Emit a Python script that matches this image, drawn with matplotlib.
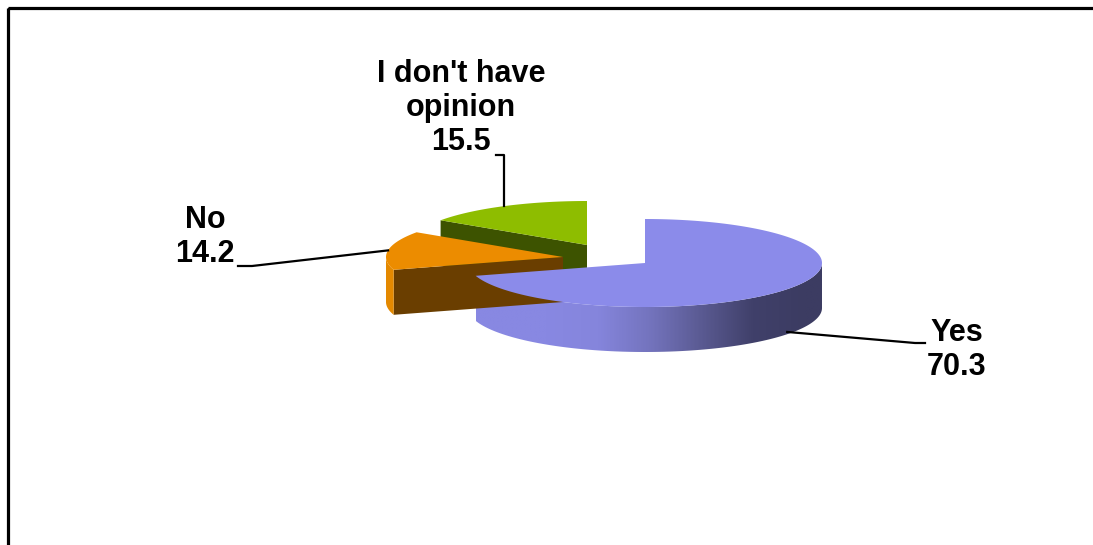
import numpy as np
import matplotlib.pyplot as plt
from matplotlib.patches import Polygon, Rectangle
from matplotlib.colors import LinearSegmentedColormap

# survey answers, drawn clockwise from 12 o'clock
labels = ["Yes", "No", "I don't have\nopinion"]
values = [70.3, 14.2, 15.5]

top_colors = ["#8B8BEA", "#EC8C00", "#8EBD00"]
rim_colors = [None, "#E48900", "#7FA800"]
cut_colors = ["#3C3C64", "#6A3E00", "#3D5300"]

W, H, DPI = 1093, 545, 100
RX, RY, DEPTH = 177, 44, 45
BASE = np.array([580.0, 258.0])
# per-slice offset of each wedge from the pie centre (pixels)
explode = [(65, 5), (-17, -1), (7, -13)]


def rim(center, ang, z=0.0):
    a = np.radians(ang)
    return np.column_stack([center[0] + RX * np.cos(a),
                            center[1] - RY * np.sin(a) + z])


def main():
    fig = plt.figure(figsize=(W / DPI, H / DPI), dpi=DPI)
    ax = fig.add_axes([0, 0, 1, 1])
    ax.set_xlim(0, W)
    ax.set_ylim(H, 0)
    ax.axis("off")

    total = sum(values)
    cum = np.concatenate([[0], np.cumsum(values)]) / total * 360
    a_hi = 90 - cum[:-1]   # start of each wedge (clockwise)
    a_lo = 90 - cum[1:]

    side_cmap = LinearSegmentedColormap.from_list(
        "side", ["#8888E2", "#8585DC", "#7474BE", "#5A5A92", "#40406A", "#3C3C62"])

    # draw back wedges first so the front one overlaps them
    for i in [2, 1, 0]:
        c = BASE + np.array(explode[i])
        lo, hi = a_lo[i], a_hi[i]

        # radial cut faces that turn towards the viewer
        for ang, show in [(hi, np.cos(np.radians(hi)) < -1e-6),
                          (lo, np.cos(np.radians(lo)) > 1e-6)]:
            if show:
                p_top = rim(c, [ang])[0]
                poly = [c, p_top, p_top + [0, DEPTH], c + [0, DEPTH]]
                ax.add_patch(Polygon(poly, closed=True, fc=cut_colors[i], ec="none"))

        # outer curved wall, front half only
        lo_n = lo % 360
        hi_n = lo_n + (hi - lo)
        f0, f1 = max(lo_n, 180), min(hi_n, 360)
        if f1 > f0:
            t = np.linspace(f0, f1, 200)
            up = rim(c, t)
            dn = rim(c, t[::-1], DEPTH)
            poly = np.vstack([up, dn])
            if rim_colors[i] is None:
                patch = Polygon(poly, closed=True, fc="none", ec="none")
                ax.add_patch(patch)
                x0, x1 = poly[:, 0].min(), poly[:, 0].max()
                y0, y1 = poly[:, 1].min(), poly[:, 1].max()
                grad = np.linspace(0, 1, 256)
                grad = np.clip((grad - 0.2) / 0.75, 0, 1)[None, :]
                im = ax.imshow(grad, cmap=side_cmap, extent=[x0, x1, y1, y0],
                               aspect="auto", interpolation="bilinear")
                im.set_clip_path(patch)
            else:
                ax.add_patch(Polygon(poly, closed=True, fc=rim_colors[i], ec="none"))

        # top face
        t = np.linspace(lo, hi, 300)
        poly = np.vstack([c, rim(c, t)])
        ax.add_patch(Polygon(poly, closed=True, fc=top_colors[i], ec="none"))

    # leader lines and labels
    mid = (a_lo + a_hi) / 2
    txt = dict(fontsize=22, fontweight="bold", family="Liberation Sans",
               ha="center", va="center", linespacing=1.17)

    c = BASE + np.array(explode[0])
    p = rim(c, [mid[0]], DEPTH * 0.95)[0]
    ax.plot([p[0], 915, 925], [p[1], 343, 343], color="black", lw=1.6)
    ax.text(957, 350, f"{labels[0]}\n{values[0]}", **txt)

    c = BASE + np.array(explode[1])
    p = rim(c, [mid[1]])[0]
    ax.plot([p[0], 252, 238], [p[1], 266, 266], color="black", lw=1.6)
    ax.text(205, 237, f"{labels[1]}\n{values[1]}", **txt)

    c = BASE + np.array(explode[2])
    p = rim(c, [mid[2]])[0]
    ax.plot([p[0], p[0], p[0] - 8], [p[1], 155, 155], color="black", lw=1.6)
    ax.text(461, 108, f"{labels[2]}\n{values[2]}", **txt)

    # chart frame, running off the right and bottom edges
    ax.add_patch(Rectangle((8, 8), W + 50, H + 50, fc="none", ec="black", lw=2.3))

    fig.savefig("out.png", dpi=DPI)


if __name__ == "__main__":
    main()
